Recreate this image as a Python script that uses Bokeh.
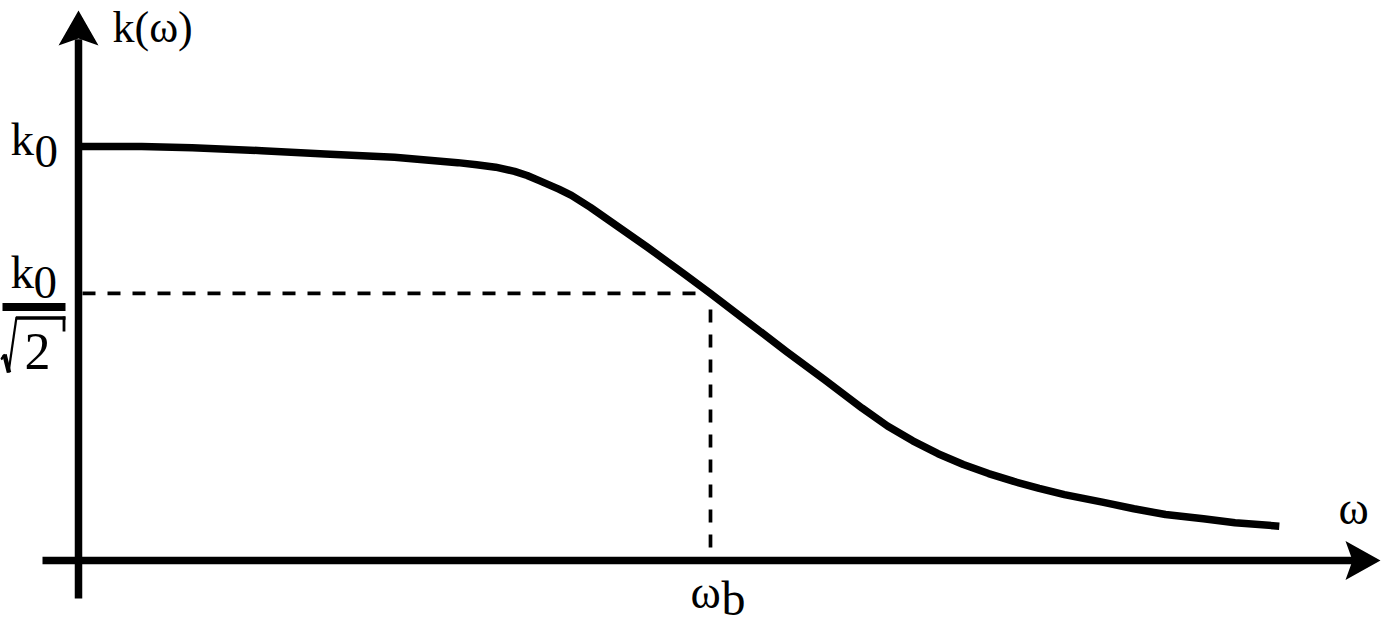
from bokeh.plotting import figure
from bokeh.models import Range1d
from bokeh.core.properties import value
from bokeh.embed import file_html
from bokeh.resources import INLINE

# ---- data (omega in units of omega_b, k in units of k0) ----
omega = [0.0, 0.10, 0.18, 0.29, 0.39, 0.50, 0.60, 0.63, 0.66, 0.69, 0.71, 0.73, 0.76,
         0.78, 0.81, 0.84, 0.90, 0.96, 1.00, 1.06, 1.12, 1.18, 1.24, 1.28, 1.32, 1.36,
         1.40, 1.44, 1.48, 1.52, 1.56, 1.62, 1.67, 1.72, 1.78, 1.83, 1.90]
k_omega = [1.000, 1.000, 0.997, 0.990, 0.982, 0.974, 0.961, 0.956, 0.950, 0.940, 0.930,
           0.917, 0.897, 0.882, 0.853, 0.821, 0.757, 0.690, 0.645, 0.575, 0.505, 0.437,
           0.368, 0.325, 0.289, 0.258, 0.232, 0.210, 0.191, 0.174, 0.159, 0.141, 0.125,
           0.111, 0.101, 0.091, 0.083]
K0 = 1.0
K_HALF = 0.645          # level drawn for k0/sqrt(2)
OMEGA_B = 1.0
y_label = "k(ω)"
x_label = "ω"
k0_sub = "0"
wb_main, wb_sub = "ω", "b"

# ---- layout helpers (pixel position -> data) ----
W, H = 1381, 625
PXW, PXK = 632.0, 414.0      # pixels per unit on each axis
X0, Y0 = 78.0, 560.0         # origin position in pixels
BASE_FIX = 0.33              # baseline correction, in em


def wx(px):
    return (px - X0) / PXW


def ky(py):
    return (Y0 - py) / PXK


p = figure(width=W, height=H, output_backend="svg", toolbar_location=None,
           x_range=Range1d(wx(0), wx(W)), y_range=Range1d(ky(H), ky(0)),
           min_border=0, outline_line_color=None, background_fill_color="white",
           border_fill_color="white")
p.axis.visible = False
p.grid.visible = False

LW = 7.5
black = "#000000"

# axes with arrow heads
x_tip, x_base, x_notch = wx(1380), wx(1345), wx(1352)
hh = 19.5 / PXK
p.segment(x0=[wx(42)], y0=[0], x1=[x_notch + 0.002], y1=[0], line_width=LW, color=black, line_cap="butt")
p.patch([x_tip, x_base, x_notch, x_base], [0, hh, 0, -hh], color=black, line_width=0)

y_tip, y_base, y_notch = ky(10), ky(45), ky(38)
hw = 20 / PXW
p.segment(x0=[0], y0=[ky(598)], x1=[0], y1=[y_notch - 0.002], line_width=LW, color=black, line_cap="butt")
p.patch([0, hw, 0, -hw], [y_tip, y_base, y_notch, y_base], color=black, line_width=0)

# dashed guides
DASH = "13 12"
p.segment(x0=[4 / PXW], y0=[K_HALF], x1=[OMEGA_B], y1=[K_HALF], line_width=3.7, color=black,
          line_dash=DASH, line_cap="butt")
p.segment(x0=[OMEGA_B], y0=[K_HALF - 16 / PXK], x1=[OMEGA_B], y1=[4 / PXK], line_width=3.7,
          color=black, line_dash=DASH, line_cap="butt")

# curve
p.line(omega, k_omega, line_width=LW, color=black, line_join="round", line_cap="butt")

SERIF = value("Liberation Serif")


def txt(s, px, py, size, align="left"):
    p.text(x=[wx(px)], y=[ky(py - BASE_FIX * size)], text=[s], text_font=SERIF,
           text_font_size=f"{size}px", text_align=align,
           text_baseline="alphabetic", text_color=black)


# labels
txt(y_label, 112, 42, 44)
txt("k", 10, 154, 47)
txt(k0_sub, 34, 167, 47)
txt("k", 10, 287, 47)
txt(k0_sub, 33, 298, 47)
txt("2", 24, 368, 52)
txt(x_label, 1338, 523, 46)
txt(wb_main, 690, 607, 46)
txt(wb_sub, 721, 614, 48)

# fraction bar
p.segment(x0=[wx(2)], y0=[ky(306.5)], x1=[wx(65)], y1=[ky(306.5)], line_width=8, color=black, line_cap="butt")
# radical sign: hook, thick down stroke, thin up stroke, overbar, end tick
rad_x = [[0.5, 4.5], [4.0, 8.5], [8.0, 16.0], [15.5, 65.0], [63.5, 63.5]]
rad_y = [[359, 354], [354, 372], [372, 316.5], [317.5, 317.5], [316, 331]]
rad_w = [2.5, 4.5, 2.2, 3.5, 2.8]
p.multi_line([[wx(v) for v in xs] for xs in rad_x], [[ky(v) for v in ys] for ys in rad_y],
             line_width=rad_w, color=black, line_cap="butt", line_join="miter")

open("out.html", "w").write(file_html(p, INLINE))
